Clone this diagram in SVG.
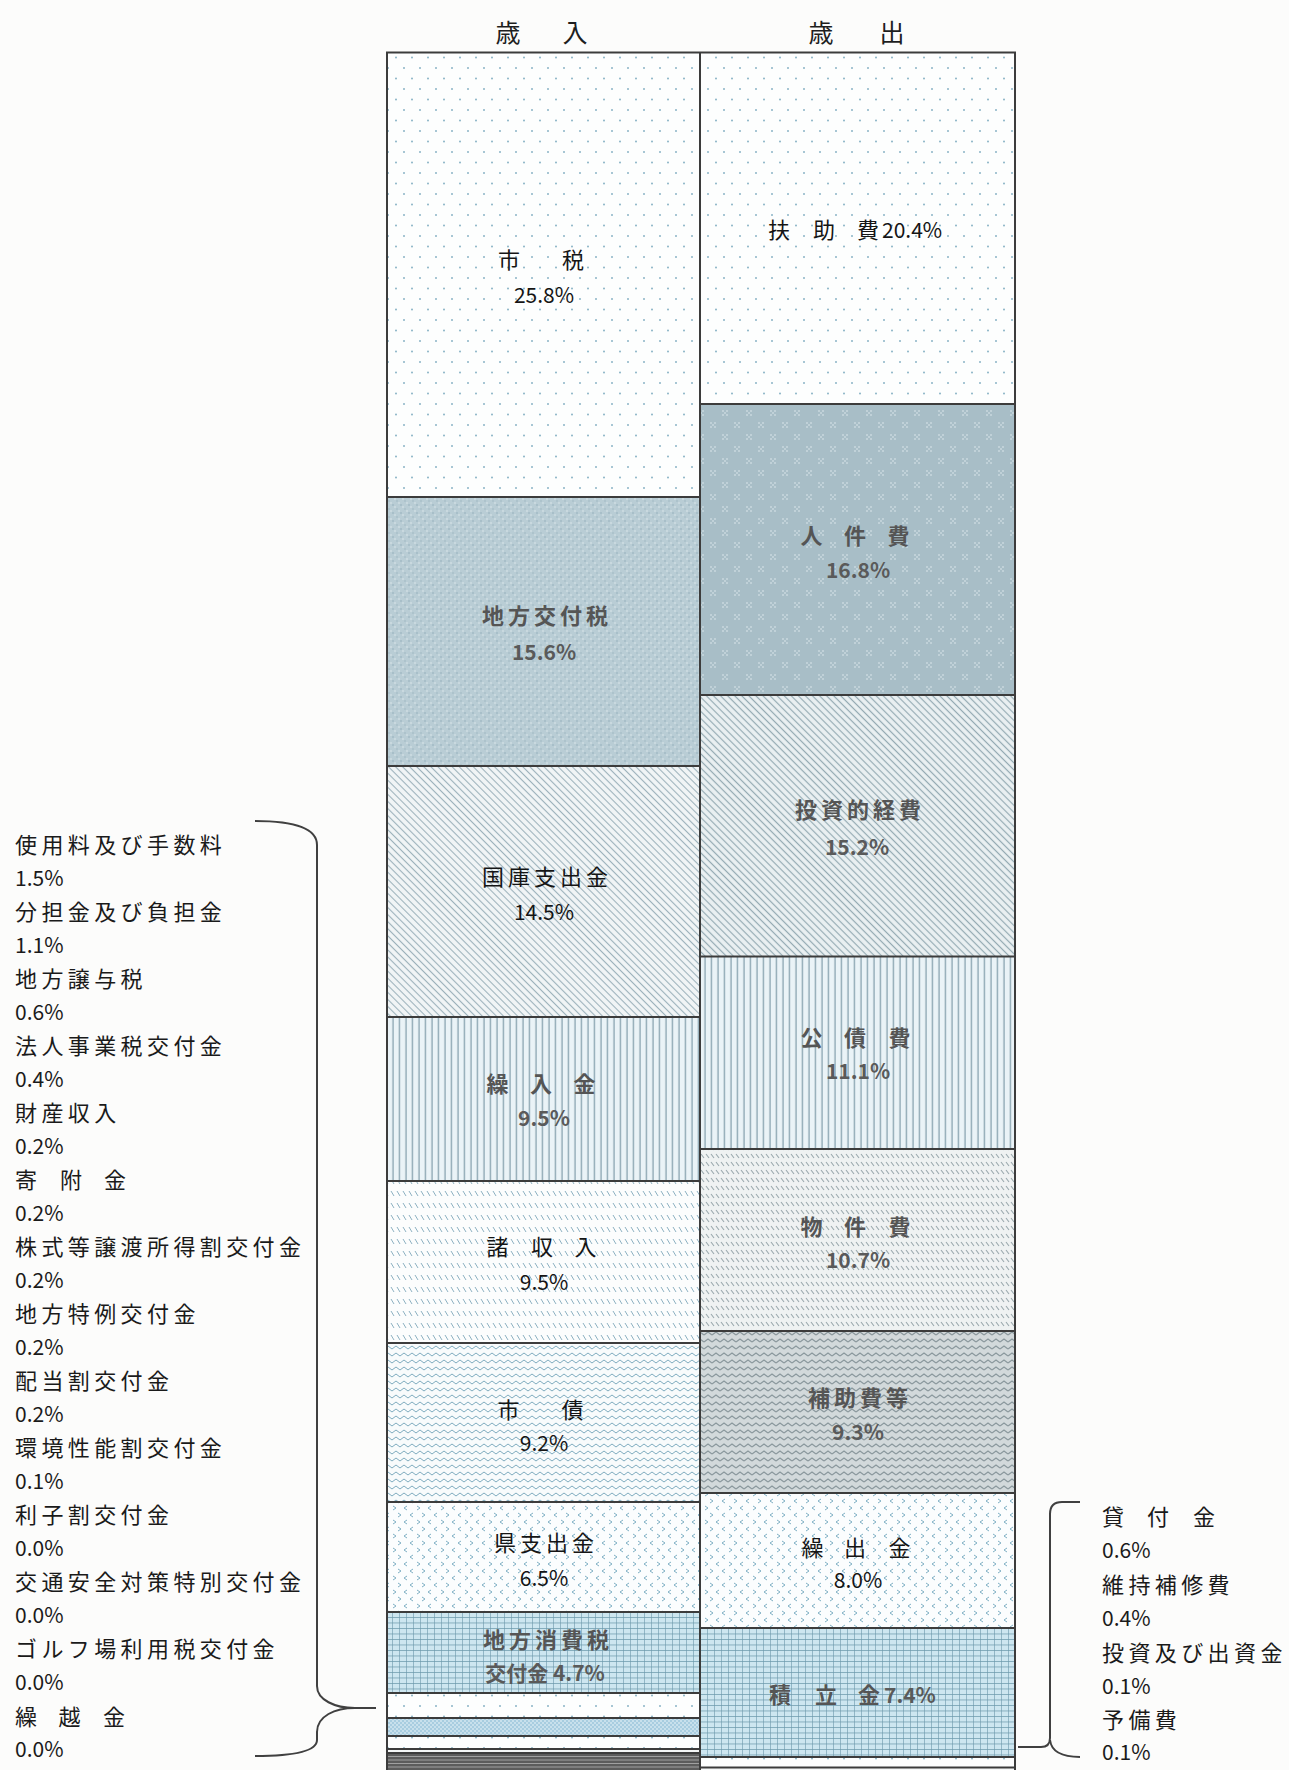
<svg xmlns="http://www.w3.org/2000/svg" width="1289" height="1770" viewBox="0 0 1289 1770">
<style>
text{font-family:"Noto Sans CJK JP","Noto Sans",sans-serif;}
.title{font-size:25px;fill:#1e1e1e}
.lbl{font-size:22px;fill:#1a1a1a;letter-spacing:4.4px}
.pct{font-size:21px;fill:#1a1a1a}
.in{font-size:22px;fill:#151515;letter-spacing:4px}
.ing{font-size:22px;fill:#555;font-weight:bold;letter-spacing:4px}
.inp{font-size:21px;fill:#151515}
.inpg{font-size:21px;fill:#5a5a5a;font-weight:bold}
.seg{stroke:#3c3c3c;stroke-width:2}
.brace{fill:none;stroke:#404040;stroke-width:2}
</style>
<defs>
<pattern id="pDots" width="16" height="21" patternUnits="userSpaceOnUse">
<rect width="16" height="21" fill="#fdfefe"/>
<circle cx="4" cy="5" r="1" fill="#8ab4c6"/>
<circle cx="12" cy="15.5" r="1" fill="#8ab4c6"/>
</pattern>
<pattern id="pMottle" width="8" height="8" patternUnits="userSpaceOnUse">
<rect width="8" height="8" fill="#b9cdd5"/>
<rect x="0" y="0" width="2" height="2" fill="#a8bfc9"/>
<rect x="4" y="4" width="2" height="2" fill="#adc3cc"/>
<rect x="2" y="2" width="2" height="2" fill="#c9d9df"/>
<rect x="6" y="6" width="2" height="2" fill="#c9d9df"/>
</pattern>
<pattern id="pJinken" width="24" height="24" patternUnits="userSpaceOnUse">
<rect width="24" height="24" fill="#a8bec7"/>
<g fill="#c0d1d8">
<rect x="2" y="2" width="2" height="2"/><rect x="6" y="2" width="2" height="2"/><rect x="4" y="4" width="2" height="2"/><rect x="2" y="6" width="2" height="2"/><rect x="6" y="6" width="2" height="2"/>
<rect x="14" y="14" width="2" height="2"/><rect x="18" y="14" width="2" height="2"/><rect x="16" y="16" width="2" height="2"/><rect x="14" y="18" width="2" height="2"/><rect x="18" y="18" width="2" height="2"/>
</g>
</pattern>
<pattern id="pDiag" width="5" height="5" patternUnits="userSpaceOnUse" patternTransform="rotate(-45)">
<rect width="5" height="5" fill="#f1f5f6"/>
<line x1="2.5" y1="0" x2="2.5" y2="5" stroke="#9cb2bb" stroke-width="1.1"/>
</pattern>
<pattern id="pDiag2" width="5" height="5" patternUnits="userSpaceOnUse" patternTransform="rotate(-45)">
<rect width="5" height="5" fill="#eaf0f2"/>
<line x1="2.5" y1="0" x2="2.5" y2="5" stroke="#94aab3" stroke-width="1.2"/>
</pattern>
<pattern id="pVert" width="6.5" height="10" patternUnits="userSpaceOnUse">
<rect width="6.5" height="10" fill="#eaf3f7"/>
<line x1="3" y1="0" x2="3" y2="10" stroke="#7f9ca8" stroke-width="1.2"/>
</pattern>
<pattern id="pDash" width="6" height="12" patternUnits="userSpaceOnUse">
<rect width="6" height="12" fill="#fcfdfd"/>
<line x1="1" y1="3" x2="4" y2="8" stroke="#8db1c1" stroke-width="1"/>
</pattern>
<pattern id="pDash2" width="5" height="8" patternUnits="userSpaceOnUse">
<rect width="5" height="8" fill="#eff2f2"/>
<line x1="1" y1="2" x2="4" y2="6" stroke="#9aa8ad" stroke-width="1.1"/>
</pattern>
<pattern id="pZig" width="8" height="7" patternUnits="userSpaceOnUse">
<rect width="8" height="7" fill="#f8fbfc"/>
<polyline points="0,5 4,2 8,5" fill="none" stroke="#7eabbf" stroke-width="1"/>
</pattern>
<pattern id="pZig2" width="8" height="7" patternUnits="userSpaceOnUse">
<rect width="8" height="7" fill="#d2d9db"/>
<polyline points="0,5 4,2 8,5" fill="none" stroke="#8a989d" stroke-width="1.2"/>
</pattern>
<pattern id="pChev" width="24" height="14" patternUnits="userSpaceOnUse">
<rect width="24" height="14" fill="#fbfdfe"/>
<g fill="none" stroke="#7fb0c4" stroke-width="1">
<polyline points="5,1 2,3 5,5"/><polyline points="14,1 17,3 14,5"/>
<polyline points="9,8 12,10 9,12"/><polyline points="23,8 20,10 23,12"/>
</g>
</pattern>
<pattern id="pGrid" width="7" height="5.5" patternUnits="userSpaceOnUse">
<rect width="7" height="5.5" fill="#cde6f0"/>
<path d="M0 0H7M0 0V5.5" stroke="#6a97aa" stroke-width="1.2"/>
</pattern>
<pattern id="pChk" width="4" height="4" patternUnits="userSpaceOnUse">
<rect width="4" height="4" fill="#a8cde0"/>
<rect width="2" height="2" fill="#c8e0ec"/>
<rect x="2" y="2" width="2" height="2" fill="#c8e0ec"/>
</pattern>
</defs>
<rect width="1289" height="1770" fill="#fcfcfb"/>

<g id="titles">
<text class="title" x="508 575" y="42" text-anchor="middle">歳入</text>
<text class="title" x="821 892" y="42" text-anchor="middle">歳出</text>
</g>

<g id="revenue">
<g id="r-shizei">
<rect x="387" y="52.5" width="313" height="444.5" fill="url(#pDots)"/>
<text class="in" x="511 575" y="268" text-anchor="middle">市税</text>
<text class="inp" x="544" y="302.5" text-anchor="middle">25.8%</text>
</g>
<g id="r-chihokofuzei">
<rect x="387" y="497" width="313" height="269" fill="url(#pMottle)"/>
<text class="ing" x="547" y="624" text-anchor="middle">地方交付税</text>
<text class="inpg" x="544" y="659.5" text-anchor="middle">15.6%</text>
</g>
<g id="r-kokko">
<rect x="387" y="766" width="313" height="251" fill="url(#pDiag)"/>
<text class="in" x="547" y="885" text-anchor="middle">国庫支出金</text>
<text class="inp" x="544" y="920" text-anchor="middle">14.5%</text>
</g>
<g id="r-kurinyu">
<rect x="387" y="1017" width="313" height="164" fill="url(#pVert)"/>
<text class="ing" x="499.5 543 586.5" y="1092" text-anchor="middle">繰入金</text>
<text class="inpg" x="544" y="1126" text-anchor="middle">9.5%</text>
</g>
<g id="r-shoshunyu">
<rect x="387" y="1181" width="313" height="162" fill="url(#pDash)"/>
<text class="in" x="499.5 544 587.5" y="1255" text-anchor="middle">諸収入</text>
<text class="inp" x="544" y="1290" text-anchor="middle">9.5%</text>
</g>
<g id="r-shisai">
<rect x="387" y="1343" width="313" height="159" fill="url(#pZig)"/>
<text class="in" x="510.5 574.5" y="1418" text-anchor="middle">市債</text>
<text class="inp" x="544" y="1451" text-anchor="middle">9.2%</text>
</g>
<g id="r-ken">
<rect x="387" y="1502" width="313" height="110" fill="url(#pChev)"/>
<text class="in" x="546" y="1551" text-anchor="middle">県支出金</text>
<text class="inp" x="544" y="1586" text-anchor="middle">6.5%</text>
</g>
<g id="r-shohizei">
<rect x="387" y="1612" width="313" height="81" fill="url(#pGrid)"/>
<text class="ing" x="548" y="1648" text-anchor="middle">地方消費税</text>
<text class="inpg" x="545" y="1681" text-anchor="middle">交付金 4.7%</text>
</g>
<g id="r-small">
<rect x="387" y="1693" width="313" height="25" fill="url(#pDots)"/>
<rect x="387" y="1718" width="313" height="18" fill="url(#pChk)"/>
<rect x="387" y="1736" width="313" height="13" fill="url(#pDots)"/>
<rect x="387" y="1749" width="313" height="4" fill="#f4f6f6"/>
<rect x="387" y="1753" width="313" height="22" fill="#5c5c5c"/>
<path d="M387 1756.5H700M387 1760H700M387 1763.5H700M387 1767H700" stroke="#a0a0a0" stroke-width="1"/>
</g>
<path class="seg" d="M387 497H700M387 766H700M387 1017H700M387 1181H700M387 1343H700M387 1502H700M387 1612H700M387 1693H700M387 1718H700M387 1736H700M387 1749H700M387 1753H700"/>
</g>

<g id="expenditure">
<g id="e-fujo">
<rect x="700" y="52.5" width="315" height="351.5" fill="url(#pDots)"/>
<text class="in" x="781 826 870" y="238" text-anchor="middle">扶助費</text>
<text class="inp" x="882" y="238">20.4%</text>
</g>
<g id="e-jinken">
<rect x="700" y="404" width="315" height="291" fill="url(#pJinken)"/>
<text class="ing" x="813.5 857 900.5" y="544" text-anchor="middle">人件費</text>
<text class="inpg" x="858" y="578" text-anchor="middle">16.8%</text>
</g>
<g id="e-toshi">
<rect x="700" y="695" width="315" height="261.5" fill="url(#pDiag2)"/>
<text class="ing" x="860" y="818" text-anchor="middle">投資的経費</text>
<text class="inpg" x="857" y="855" text-anchor="middle">15.2%</text>
</g>
<g id="e-kosai">
<rect x="700" y="956.5" width="315" height="192.5" fill="url(#pVert)"/>
<text class="ing" x="813.5 857 901.5" y="1046" text-anchor="middle">公債費</text>
<text class="inpg" x="858" y="1078.5" text-anchor="middle">11.1%</text>
</g>
<g id="e-bukken">
<rect x="700" y="1149" width="315" height="182" fill="url(#pDash2)"/>
<text class="ing" x="813.5 857 901.5" y="1235" text-anchor="middle">物件費</text>
<text class="inpg" x="858" y="1268" text-anchor="middle">10.7%</text>
</g>
<g id="e-hojo">
<rect x="700" y="1331" width="315" height="162" fill="url(#pZig2)"/>
<text class="ing" x="860" y="1406" text-anchor="middle">補助費等</text>
<text class="inpg" x="858" y="1440" text-anchor="middle">9.3%</text>
</g>
<g id="e-kuridashi">
<rect x="700" y="1493" width="315" height="135" fill="url(#pChev)"/>
<text class="in" x="814.5 857 901.5" y="1556" text-anchor="middle">繰出金</text>
<text class="inp" x="858" y="1588" text-anchor="middle">8.0%</text>
</g>
<g id="e-tsumitate">
<rect x="700" y="1628" width="315" height="129" fill="url(#pGrid)"/>
<text class="ing" x="782 828 871" y="1703" text-anchor="middle">積立金</text>
<text class="inpg" x="884" y="1703">7.4%</text>
</g>
<g id="e-small">
<rect x="700" y="1757" width="315" height="10.5" fill="url(#pDots)"/>
<rect x="700" y="1767.5" width="315" height="8" fill="#f6f8f8"/>
</g>
<path class="seg" d="M700 404H1015M700 695H1015M700 956.5H1015M700 1149H1015M700 1331H1015M700 1493H1015M700 1628H1015M700 1757H1015M700 1767.5H1015"/>
</g>

<g id="frame">
<rect x="387" y="52.5" width="628" height="1730" fill="none" stroke="#3c3c3c" stroke-width="2"/>
<line x1="700" y1="52.5" x2="700" y2="1770" stroke="#3c3c3c" stroke-width="2"/>
</g>

<g id="revenue-others">
<text class="lbl" x="15" y="853">使用料及び手数料</text>
<text class="pct" x="15" y="886">1.5%</text>
<text class="lbl" x="15" y="920">分担金及び負担金</text>
<text class="pct" x="15" y="953">1.1%</text>
<text class="lbl" x="15" y="987">地方譲与税</text>
<text class="pct" x="15" y="1020">0.6%</text>
<text class="lbl" x="15" y="1054">法人事業税交付金</text>
<text class="pct" x="15" y="1087">0.4%</text>
<text class="lbl" x="15" y="1121">財産収入</text>
<text class="pct" x="15" y="1154">0.2%</text>
<text class="lbl" x="15 60 104" y="1188">寄附金</text>
<text class="pct" x="15" y="1221">0.2%</text>
<text class="lbl" x="15" y="1255">株式等譲渡所得割交付金</text>
<text class="pct" x="15" y="1288">0.2%</text>
<text class="lbl" x="15" y="1322">地方特例交付金</text>
<text class="pct" x="15" y="1355">0.2%</text>
<text class="lbl" x="15" y="1389">配当割交付金</text>
<text class="pct" x="15" y="1422">0.2%</text>
<text class="lbl" x="15" y="1456">環境性能割交付金</text>
<text class="pct" x="15" y="1489">0.1%</text>
<text class="lbl" x="15" y="1523">利子割交付金</text>
<text class="pct" x="15" y="1556">0.0%</text>
<text class="lbl" x="15" y="1590">交通安全対策特別交付金</text>
<text class="pct" x="15" y="1623">0.0%</text>
<text class="lbl" x="15" y="1657">ゴルフ場利用税交付金</text>
<text class="pct" x="15" y="1690">0.0%</text>
<text class="lbl" x="15 58.5 103" y="1725">繰越金</text>
<text class="pct" x="15" y="1757">0.0%</text>
</g>

<g id="expenditure-others">
<text class="lbl" x="1102 1147 1193" y="1525">貸付金</text>
<text class="pct" x="1102" y="1558">0.6%</text>
<text class="lbl" x="1102" y="1593">維持補修費</text>
<text class="pct" x="1102" y="1626">0.4%</text>
<text class="lbl" x="1102" y="1661">投資及び出資金</text>
<text class="pct" x="1102" y="1694">0.1%</text>
<text class="lbl" x="1102" y="1728">予備費</text>
<text class="pct" x="1102" y="1760">0.1%</text>
</g>

<g id="connectors">
<path class="brace" d="M255 821Q317 821 317 845V1686C317 1700 335 1708 355 1708H376"/>
<path class="brace" d="M355 1708C335 1708 317 1716 317 1732V1740Q317 1756 255 1756"/>
<path class="brace" d="M1080 1502H1062Q1050 1502 1050 1514V1738Q1050 1747 1041 1747H1018"/>
<path class="brace" d="M1050 1740Q1052 1757 1080 1757"/>
</g>
</svg>
